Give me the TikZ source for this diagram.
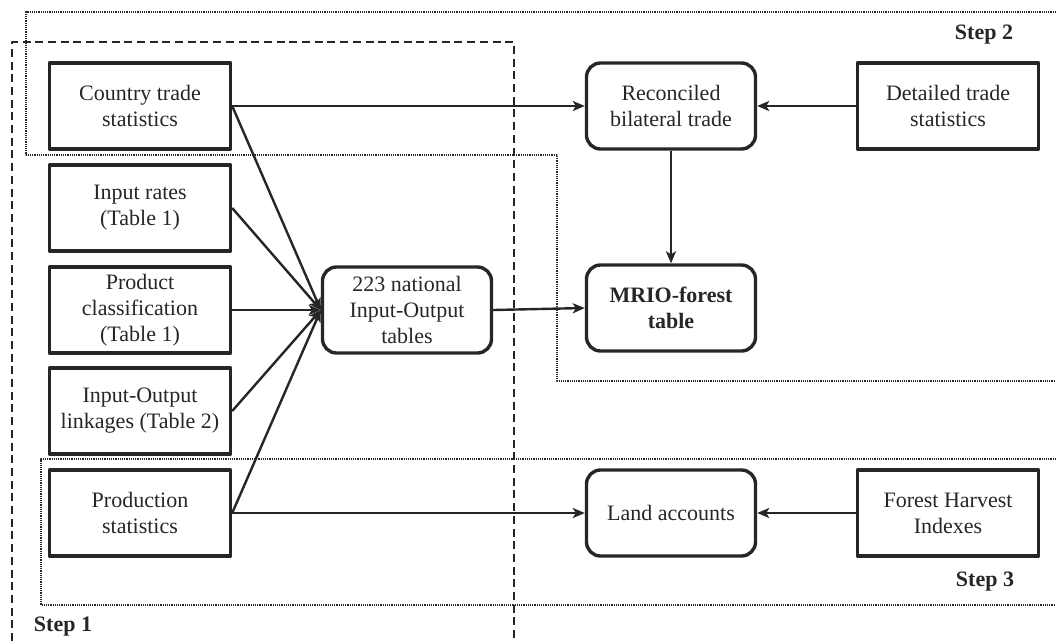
\documentclass[tikz,border=0pt]{standalone}
\usepackage{fontspec}
\setmainfont{Liberation Serif}
\usetikzlibrary{arrows.meta}

\begin{document}
\begin{tikzpicture}[line width=2.4pt,line join=round,x=1pt,y=-1pt,
  font=\fontsize{22}{26}\selectfont,text=black!85,
  srcbox/.style={draw=black!85,line width=3.4pt,minimum width=181,minimum height=86,align=center,inner sep=2pt},
  calcbox/.style={srcbox,rounded corners=14pt,minimum width=169},
  link/.style={draw=black!85,-{Stealth[length=12pt,width=10pt,inset=3pt]}},
  region/.style={draw=black!85,line width=1.8pt},
  steplabel/.style={font=\fontsize{22}{26}\selectfont\bfseries}]
\useasboundingbox (0,0) rectangle (1056,641);
% regions
\draw[region,dash pattern=on 8pt off 4.7pt] (12,641) -- (12,42) -- (514,42) -- (514,641);
\draw[region,line width=1.8pt,dash pattern=on 1.2pt off 1pt] (1056,12) -- (26,12) -- (26,155) -- (557,155) -- (557,381) -- (1056,381);
\draw[region,line width=1.8pt,dash pattern=on 1.2pt off 1pt] (1056,459) -- (41,459) -- (41,605) -- (1056,605);
\node[steplabel] (lab1) at (63,627) {Step 1};
\node[steplabel] (lab2) at (984,35) {Step 2};
\node[steplabel] (lab3) at (985,582) {Step 3};
% inputs
\node[srcbox] (cts) at (140,106) {Country trade\\statistics};
\node[srcbox] (inr) at (140,208) {Input rates\\(Table 1)};
\node[srcbox] (prc) at (140,310) {Product\\classification\\(Table 1)};
\node[srcbox] (iol) at (140,411) {Input-Output\\linkages (Table 2)};
\node[srcbox] (prs) at (140,513) {Production\\statistics};
\node[srcbox] (dts) at (948,106) {Detailed trade\\statistics};
\node[srcbox] (fhi) at (948,513) {Forest Harvest\\Indexes};
% results
\node[calcbox] (nio) at (407,310) {223 national\\Input-Output\\tables};
\node[calcbox] (rbt) at (671,106) {Reconciled\\bilateral trade};
\node[calcbox,font=\fontsize{22}{26}\selectfont\bfseries] (mrio) at (671,308) {MRIO-forest\\table};
\node[calcbox] (lac) at (671,513) {Land accounts};
% links
\foreach \s in {cts,inr,prc,iol,prs}
  \draw[link] (\s.east) -- (nio.west);
\draw[link] (cts) -- (rbt);
\draw[link] (dts) -- (rbt);
\draw[link] (rbt) -- (mrio);
\draw[link] (nio.east) -- (mrio.west);
\draw[link] (prs) -- (lac);
\draw[link] (fhi) -- (lac);
\end{tikzpicture}
\end{document}
